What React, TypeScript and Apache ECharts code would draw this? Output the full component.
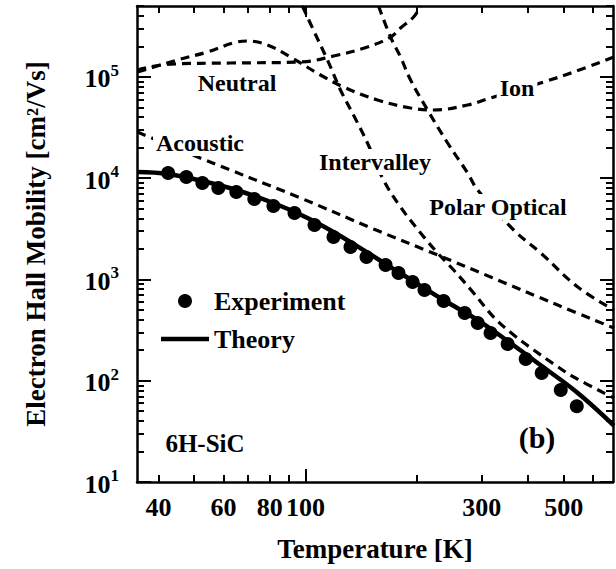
import React, { useEffect, useRef } from "react";
import * as echarts from "echarts";

const FONT = '"Liberation Serif", "Times New Roman", serif';

// Axis ranges
const X_MIN = 35;
const X_MAX = 680;
const Y_MIN = 10;
const Y_MAX = 500000;

// Tick labels / tick positions
const xLabelValues = [40, 60, 80, 100, 300, 500];
const xMajorTicks = [100];
const xMinorTicks = [40, 50, 60, 70, 80, 90, 200, 300, 400, 500, 600];
const yMajorTicks = [10, 100, 1000, 10000, 100000];
const yMinorMultipliers = [2, 3, 4, 5, 6, 7, 8, 9];

// Experiment (filled circles)
const expT = [42.5, 47.6, 52.6, 58.1, 65.0, 72.7, 81.9, 93.4, 105.8, 119.1, 132.4, 146.3, 164.8, 178.6, 195, 210, 236.6, 269.8, 292.6, 317, 352.6, 394.6, 436, 491, 542.6];
const expMu = [11220, 10250, 8950, 7980, 7290, 6220, 5305, 4520, 3443, 2620, 2088, 1665, 1387, 1157, 943, 786, 612, 466, 371, 296, 230, 164, 119, 81, 56];

// Theory (solid)
const theoryT = [35.1, 42.5, 52.6, 65.0, 81.9, 100, 119.1, 146.3, 178.6, 236.6, 292.6, 352.6, 436, 545.9, 684];
const theoryMu = [11480, 10980, 9360, 7630, 5680, 4130, 2937, 1864, 1183, 626, 397, 246.6, 139.7, 75.6, 36];

// Acoustic
const acousticT = [35.1, 51.9, 96.9, 152.9, 227.9, 317.2, 481.9, 684];
const acousticMu = [28510, 15790, 6370, 3146, 1742, 1056, 558, 331];

// Neutral
const neutralT = [35.1, 43.1, 62.6, 96.9, 119.1, 147.2, 170, 180.9, 196.2, 205];
const neutralMu = [116700, 133600, 136800, 140000, 160300, 196800, 247000, 303000, 389000, 500000];

// Ion
const ionT = [35.1, 45.0, 54.3, 63.8, 69.6, 78.9, 91.1, 109.8, 126.8, 156.7, 192.6, 222.3, 274.8, 317.2, 441.6, 532.4, 684];
const ionMu = [111400, 146600, 175800, 215900, 225600, 206000, 156800, 104200, 79300, 59000, 49200, 47000, 52700, 61800, 88900, 111400, 156800];

// Intervalley
const interT = [98.1, 105.1, 114.7, 124.4, 134.9, 147.2, 162.7, 180.9, 205, 227.9, 251.8, 285.3, 323.2, 366.2, 414.8, 470, 532.4, 684];
const interMu = [500000, 289700, 146600, 74100, 41980, 22210, 9570, 5184, 2870, 1822, 1238, 734, 425, 282.7, 201, 146.2, 108.8, 67.5];

// Polar Optical
const polarT = [157.7, 170, 180.9, 192.6, 214.1, 242.6, 274.8, 292.5, 366.2, 433.5, 545.9, 684];
const polarMu = [500000, 247000, 156800, 92900, 47000, 22210, 11220, 7630, 3074, 1822, 841, 499];

const zip = (a: number[], b: number[]) => a.map((v, i) => [v, b[i]]);

const yMinorTicks: number[] = [];
yMajorTicks.forEach((d) => {
  yMinorMultipliers.forEach((m) => {
    if (d * m <= Y_MAX) yMinorTicks.push(d * m);
  });
});

function xAxisCfg(pos: string, ticks: number[], len: number, line: boolean, label: boolean) {
  return {
    type: "log",
    min: X_MIN,
    max: X_MAX,
    position: pos,
    splitLine: { show: false },
    axisLine: { show: line, onZero: false, lineStyle: { color: "#000", width: 2.5 } },
    axisTick: { show: true, inside: true, length: len, customValues: ticks, lineStyle: { color: "#000", width: 2 } },
    axisLabel: label
      ? {
          show: true,
          customValues: xLabelValues,
          margin: 12,
          color: "#000",
          fontFamily: FONT,
          fontWeight: "bold",
          fontSize: 26,
          formatter: (v: number) => String(Math.round(v)),
        }
      : { show: false },
    ...(label
      ? {
          name: "Temperature [K]",
          nameLocation: "middle",
          nameGap: 53,
          nameTextStyle: { color: "#000", fontFamily: FONT, fontWeight: "bold", fontSize: 27 },
        }
      : {}),
  };
}

function yAxisCfg(pos: string, ticks: number[], len: number, line: boolean, label: boolean) {
  return {
    type: "log",
    min: Y_MIN,
    max: Y_MAX,
    position: pos,
    splitLine: { show: false },
    axisLine: { show: line, onZero: false, lineStyle: { color: "#000", width: 2.5 } },
    axisTick: { show: true, inside: true, length: len, customValues: ticks, lineStyle: { color: "#000", width: 2 } },
    axisLabel: label
      ? {
          show: true,
          customValues: yMajorTicks,
          margin: 18,
          color: "#000",
          formatter: (v: number) => {
            const e = String(Math.round(Math.log10(v)));
            return "{b|10}{s|" + e + "}";
          },
          rich: {
            b: { fontFamily: FONT, fontWeight: "bold", fontSize: 26, color: "#000", lineHeight: 30, verticalAlign: "bottom" },
            s: { fontFamily: FONT, fontWeight: "bold", fontSize: 17, color: "#000", verticalAlign: "top", lineHeight: 17 },
          },
        }
      : { show: false },
    ...(label
      ? {
          name: "Electron Hall Mobility [cm²/Vs]",
          nameLocation: "middle",
          nameGap: 88,
          nameRotate: 90,
          nameTextStyle: { color: "#000", fontFamily: FONT, fontWeight: "bold", fontSize: 27 },
        }
      : {}),
  };
}

const dashed = (name: string, t: number[], mu: number[]) => ({
  name,
  type: "line",
  data: zip(t, mu),
  xAxisIndex: 0,
  yAxisIndex: 0,
  showSymbol: false,
  symbol: "none",
  smooth: 0.4,
  lineStyle: { color: "#000", width: 3.2, type: [9, 6] },
  z: 3,
});

const labelText = (text: string, x: number, y: number, size = 24, bg = true) => ({
  type: "text",
  x,
  y,
  z: 100,
  style: {
    text,
    fill: "#000",
    font: `bold ${size}px ${FONT}`,
    align: "center",
    verticalAlign: "middle",
    textAlign: "center",
    textVerticalAlign: "middle",
    backgroundColor: bg ? "#fff" : undefined,
    padding: bg ? [1, 3, 1, 3] : 0,
  },
});

export default function App() {
  const ref = useRef<HTMLDivElement>(null);
  useEffect(() => {
    if (!ref.current) return;
    const chart = echarts.init(ref.current, undefined, { renderer: "svg" });
    chart.setOption({
      animation: false,
      backgroundColor: "#fff",
      grid: { left: 137, right: 3, top: 6, bottom: 87, containLabel: false },
      xAxis: [
        xAxisCfg("bottom", xMajorTicks, 13, true, true),
        xAxisCfg("bottom", xMinorTicks, 7, false, false),
        xAxisCfg("top", xMajorTicks, 11, true, false),
        xAxisCfg("top", xMinorTicks, 7, false, false),
      ],
      yAxis: [
        yAxisCfg("left", yMajorTicks, 14, true, true),
        yAxisCfg("left", yMinorTicks, 7, false, false),
        yAxisCfg("right", yMajorTicks, 13, true, false),
        yAxisCfg("right", yMinorTicks, 7, false, false),
      ],
      legend: {
        data: [
          { name: "Experiment", icon: "circle" },
          { name: "Theory", icon: "path://M0,0H48V4.5H0Z" },
        ],
        orient: "vertical",
        left: 161,
        top: 288,
        padding: 0,
        itemWidth: 48,
        itemHeight: 14,
        itemGap: 12,
        textStyle: { color: "#000", fontFamily: FONT, fontWeight: "bold", fontSize: 26 },
      },
      series: [
        dashed("Acoustic", acousticT, acousticMu),
        dashed("Neutral", neutralT, neutralMu),
        dashed("Ion", ionT, ionMu),
        dashed("Intervalley", interT, interMu),
        dashed("Polar Optical", polarT, polarMu),
        {
          name: "Theory",
          type: "line",
          data: zip(theoryT, theoryMu),
          xAxisIndex: 0,
          yAxisIndex: 0,
          showSymbol: false,
          symbol: "none",
          smooth: 0.4,
          lineStyle: { color: "#000", width: 4.5 },
          itemStyle: { color: "#000" },
          z: 4,
        },
        {
          name: "Experiment",
          type: "scatter",
          data: zip(expT, expMu),
          xAxisIndex: 0,
          yAxisIndex: 0,
          symbol: "circle",
          symbolSize: 14,
          itemStyle: { color: "#000", opacity: 1 },
          z: 5,
        },
      ],
      graphic: [
        labelText("Neutral", 237, 83, 24, false),
        labelText("Acoustic", 200, 143),
        labelText("Ion", 517, 88),
        labelText("Intervalley", 375, 162),
        labelText("Polar Optical", 498, 207),
        labelText("6H-SiC", 205, 443, 25, false),
        labelText("(b)", 537, 437, 30, false),
      ],
    });
    return () => chart.dispose();
  }, []);
  return (
    <div
      ref={ref}
      style={{ position: "fixed", left: 0, top: 0, width: 616, height: 569, background: "#fff" }}
    />
  );
}
